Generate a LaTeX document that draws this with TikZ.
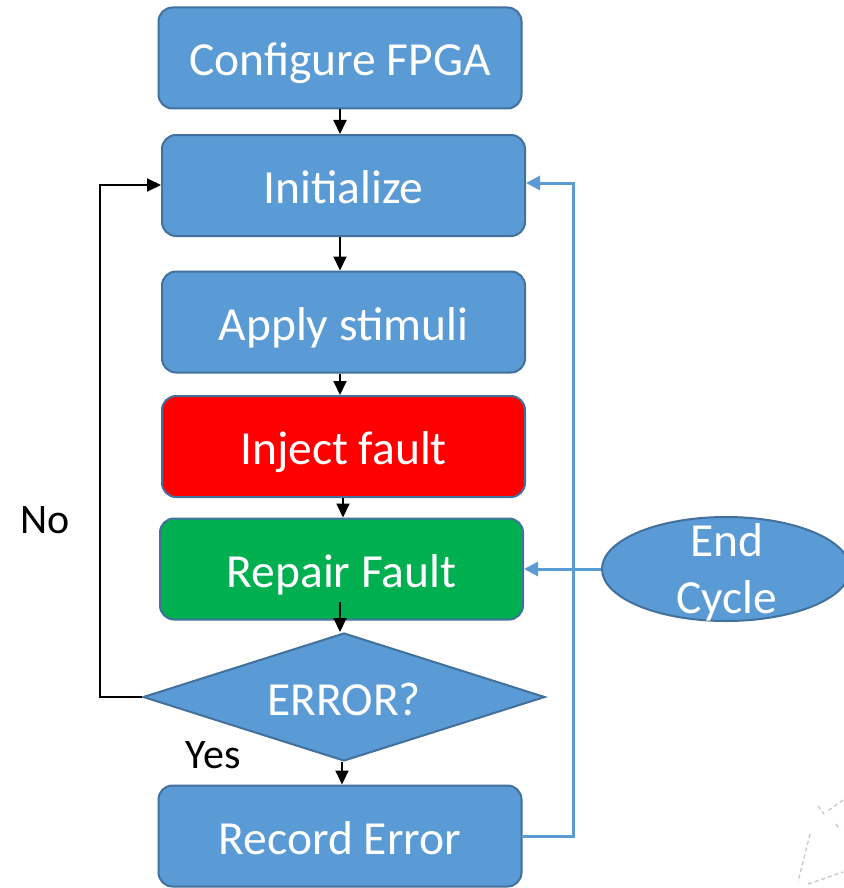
\documentclass[tikz,border=0pt]{standalone}
\usepackage{fontspec}
\setmainfont{Carlito}
\usetikzlibrary{shapes.geometric,arrows.meta}
\definecolor{boxblue}{HTML}{5B9BD5}
\definecolor{boxedge}{HTML}{41719C}
\definecolor{failred}{HTML}{FF0000}
\definecolor{okgreen}{HTML}{00B050}
\tikzset{
  bigtext/.style={text=white, font=\fontsize{47.5}{57}\selectfont},
  stage/.style={draw=boxedge, line width=2pt, rounded corners=14pt, fill=boxblue,
    minimum width=363pt, minimum height=101pt, inner sep=0pt, bigtext,
    text height=40pt, text depth=4pt},
  flow/.style={line width=2pt, black, -{Triangle[length=14pt,width=13pt]}},
  back/.style={line width=3pt, boxblue, -{Triangle[length=14pt,width=14pt]}},
  lbl/.style={font=\fontsize{42}{50}\selectfont, text=black}
}
\begin{document}
\begin{tikzpicture}[x=1pt,y=-1pt]
\useasboundingbox (0,0) rectangle (843,888);
\fill[white] (0,0) rectangle (843,888);

% process boxes
\node[stage] (cfg)  at (340,58)  {Configure FPGA};
\node[stage] (init) at (343.5,185.5) {Initialize};
\node[stage] (stim) at (343.5,322) {Apply stimuli};
\node[stage, fill=failred] (inj) at (343.5,446.5) {Inject fault};
\node[stage, fill=okgreen] (rep) at (341.5,569) {Repair Fault};
\node[diamond, draw=boxedge, line width=2pt, fill=boxblue, aspect=3.14,
      minimum width=402pt, minimum height=128pt, inner sep=0pt, bigtext,
      text height=40pt, text depth=4pt] (err) at (344,697) {ERROR?};
\node[stage] (rec) at (340,836) {Record Error};

% end-of-cycle marker; its two text lines run past the outline
\node[ellipse, draw=boxedge, line width=2pt, fill=boxblue, minimum width=248pt,
      minimum height=104pt, inner sep=0pt] (end) at (726,569) {};
\node[bigtext, align=center, inner sep=0pt] (endtxt) at (727,572)
      {\fontsize{47.5}{55}\selectfont End\\Cycle};

% branch labels
\node[lbl] (no)  at (45,520)  {No};
\node[lbl] (yes) at (213,755) {Yes};

% column and turning points of the connectors
\coordinate (colA) at (340,0);
\coordinate (colB) at (343,0);
\coordinate (colC) at (342,0);
\coordinate (repOut) at (340,602);
\coordinate (noTurnLow) at (100,697);
\coordinate (noTurnHigh) at (100,185);
\coordinate (loopLow) at (573,836);
\coordinate (loopHigh) at (573,183);

% main flow
\draw[flow] (cfg.south -| colA) -- (init.north -| colA);
\draw[flow] (init.south -| colA) -- (stim.north -| colA);
\draw[flow] (stim.south -| colA) -- (inj.north -| colA);
\draw[flow] (inj.south -| colB) -- (rep.north -| colB);
\draw[flow] (repOut) -- (err.north -| colA);
\draw[flow] (err.south -| colC) -- (rec.north -| colC);

% "No" loop back to Initialize
\draw[flow] (err.west) -- (noTurnLow) -- (noTurnHigh) -- (init.west |- noTurnHigh);

% repeat loop from Record Error
\draw[back] (rec.east) -- (loopLow) -- (loopHigh) -- (init.east |- loopHigh);
\draw[back] (end.west) -- (rep.east);

% faint marks in the corner
\begin{scope}[gray!45, line width=1.3pt, dash pattern=on 4pt off 3pt]
\draw (843,800) -- (826,812);
\draw (818,806) -- (824,814);
\draw (836,824) -- (840,830);
\draw (810,834) -- (798,882);
\draw (808,884) -- (843,872);
\end{scope}
\end{tikzpicture}
\end{document}
